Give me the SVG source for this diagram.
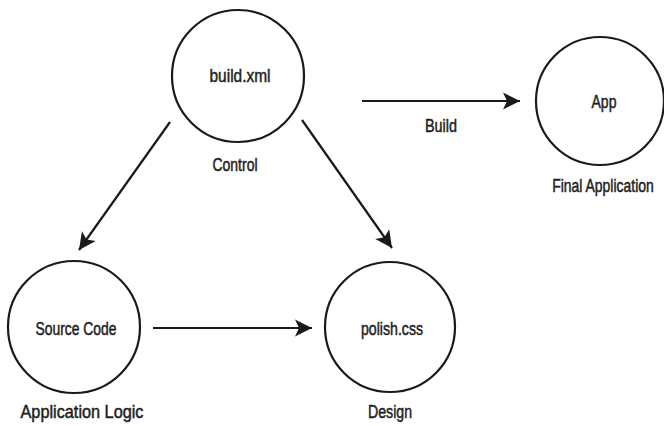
<svg xmlns="http://www.w3.org/2000/svg" width="664" height="426" viewBox="0 0 664 426">
  <style>
    .node { fill: #ffffff; stroke: #1a1a1a; stroke-width: 2.2; }
    .edge { stroke: #1a1a1a; stroke-width: 2.2; fill: none; marker-end: url(#arrow); }
    text { font-family: "Liberation Sans", Arial, sans-serif; font-size: 18px; fill: #1e1e1e; stroke: #1e1e1e; stroke-width: 0.5; text-anchor: middle; }
  </style>
  <defs>
    <marker id="arrow" markerUnits="userSpaceOnUse" viewBox="-1 -10 20 20" markerWidth="20" markerHeight="20" refX="17" refY="0" orient="auto">
      <path d="M0,-8.5 L17,0 L0,8.5 L4,0 Z" fill="#1a1a1a"/>
    </marker>
  </defs>
  <rect width="664" height="426" fill="#ffffff"/>

  <!-- connectors -->
  <g id="connectors">
    <line class="edge" x1="362" y1="101" x2="520" y2="101"/>
    <line class="edge" x1="153" y1="328" x2="312" y2="328"/>
    <line class="edge" x1="170" y1="122" x2="79" y2="250"/>
    <line class="edge" x1="302" y1="120" x2="392" y2="248"/>
    <text x="441" y="132" textLength="32" lengthAdjust="spacingAndGlyphs">Build</text>
  </g>

  <g id="build-xml">
    <circle class="node" cx="238" cy="76" r="66"/>
    <text x="240" y="82" textLength="61" lengthAdjust="spacingAndGlyphs">build.xml</text>
    <text x="235" y="171" textLength="45" lengthAdjust="spacingAndGlyphs">Control</text>
  </g>

  <g id="app">
    <circle class="node" cx="600" cy="101" r="64"/>
    <text x="604" y="108" textLength="25" lengthAdjust="spacingAndGlyphs">App</text>
    <!-- condensed by a horizontal scale so the label stays inside the canvas -->
    <text transform="translate(603,192) scale(0.775,1)">Final Application</text>
  </g>

  <g id="source-code">
    <circle class="node" cx="74" cy="327" r="66"/>
    <text x="76" y="335" textLength="81" lengthAdjust="spacingAndGlyphs">Source Code</text>
    <text x="82" y="418" textLength="123" lengthAdjust="spacingAndGlyphs">Application Logic</text>
  </g>

  <g id="polish-css">
    <circle class="node" cx="390" cy="327" r="65"/>
    <text x="392" y="335" textLength="62" lengthAdjust="spacingAndGlyphs">polish.css</text>
    <text x="390" y="418" textLength="44" lengthAdjust="spacingAndGlyphs">Design</text>
  </g>
</svg>
